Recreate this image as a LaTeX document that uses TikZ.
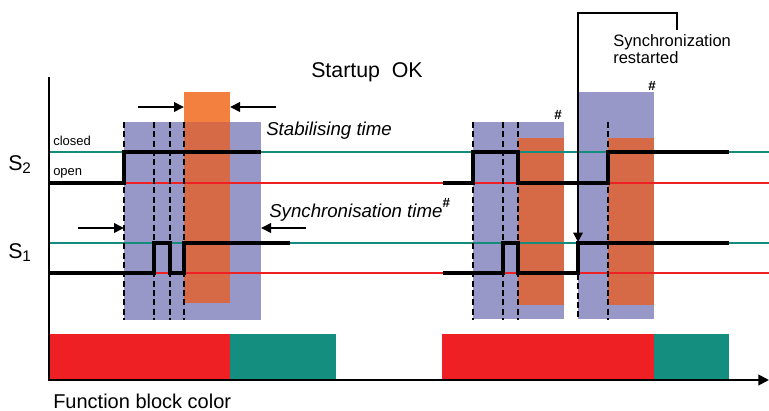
\documentclass[tikz,border=0pt]{standalone}
\usepackage{fontspec}
\setmainfont{Liberation Sans}
\usetikzlibrary{arrows.meta}
\definecolor{winblue}{RGB}{152,152,200}
\definecolor{stablight}{RGB}{244,128,64}
\definecolor{stabdark}{RGB}{214,106,70}
\definecolor{lvlteal}{RGB}{20,140,125}
\definecolor{lvlred}{RGB}{238,32,36}
\definecolor{fbteal}{RGB}{19,142,127}
\newcommand{\sidx}[1]{\raisebox{-2.5pt}{\fontsize{11.5}{12}\selectfont #1}}
\begin{document}
\begin{tikzpicture}[x=0.75pt,y=-0.75pt,
  lvl/.style={line width=1.5pt},
  sig/.style={line width=3pt},
  tick/.style={line width=1.5pt,dash pattern=on 4.5pt off 2.5pt},
  span/.style={line width=2.2pt,-{Triangle[length=7.5pt,width=7pt]}},
  lbl/.style={inner sep=0pt,anchor=base west},
  hsh/.style={inner sep=0pt,font=\fontsize{10}{10}\selectfont\bfseries}]
\useasboundingbox (0,0) rectangle (769,411);
\fill[winblue] (124,122) rectangle (261,320);
\fill[winblue] (473,122) rectangle (564,319);
\fill[winblue] (578,92) rectangle (654,319);
\fill[stablight] (184,92) rectangle (230,122);
\fill[stabdark] (184,122) rectangle (230,303);
\fill[stabdark] (518,138) rectangle (564,305);
\fill[stabdark] (608,138) rectangle (654,305);
\draw[lvl,lvlteal] (49,152) -- (769,152);
\draw[lvl,lvlred] (49,183) -- (769,183);
\draw[lvl,lvlteal] (49,243) -- (769,243);
\draw[lvl,lvlred] (49,273) -- (769,273);
\foreach \x in {124,154,170,184,473,503,518,608}
  \draw[tick] (\x,122) -- (\x,320);
\draw[tick] (578,246) -- (578,320);
\draw[sig] (49,183) -| (124,152) -- (261,152);
\draw[sig] (49,273) -| (154,243) -| (170,273) -| (184,243) -- (290,243);
\draw[sig] (443,183) -| (473,152) -| (518,183) -| (608,152) -- (729,152);
\draw[sig] (443,273) -| (503,243) -| (518,273) -| (578,243) -- (729,243);
\draw[span] (138,107) -- (184,107);
\draw[span] (276,107) -- (230,107);
\draw[span] (78,228) -- (124,228);
\draw[span] (306,228) -- (261,228);
\fill[lvlred] (49,334) rectangle (230,380);
\fill[fbteal] (230,334) rectangle (336,380);
\fill[lvlred] (442,334) rectangle (654,380);
\fill[fbteal] (654,334) rectangle (729,380);
\draw[line width=1.5pt,-{Triangle[length=8pt,width=8pt]}] (49,77) -- (49,380) -- (769,380);
\coordinate (rs) at (677,30);
\draw[line width=1.5pt,-{Triangle[length=7pt,width=7pt]}] (rs) |- (578,13) -- (578,242);
\node[lbl,font=\fontsize{16}{18}\selectfont] (title) at (311,77) {Startup\ \ OK};
\node[lbl,font=\fontsize{16}{18}\selectfont] (s2) at (8,170) {S\sidx{2}};
\node[lbl,font=\fontsize{16}{18}\selectfont] (s1) at (8,258) {S\sidx{1}};
\node[lbl,font=\fontsize{9.75}{11}\selectfont] (closed) at (53,145) {closed};
\node[lbl,font=\fontsize{9.75}{11}\selectfont] (open) at (53,175) {open};
\node[lbl,font=\fontsize{14}{16}\selectfont\itshape] (stab) at (266,135) {Stabilising time};
\node[lbl,font=\fontsize{14}{16}\selectfont] (sync) at (269,217) {\textit{Synchronisation time}\raisebox{7pt}{\fontsize{10}{10}\selectfont\bfseries\#}};
\node[inner sep=0pt,anchor=north west,align=left,font=\fontsize{12.4}{12.75}\selectfont] (restart) at (613,34) {Synchronization\\restarted};
\node[hsh] (h1) at (558,115) {\#};
\node[hsh] (h2) at (652,86) {\#};
\node[lbl,font=\fontsize{15}{17}\selectfont] (fbc) at (53,408) {Function block color};
\end{tikzpicture}
\end{document}
